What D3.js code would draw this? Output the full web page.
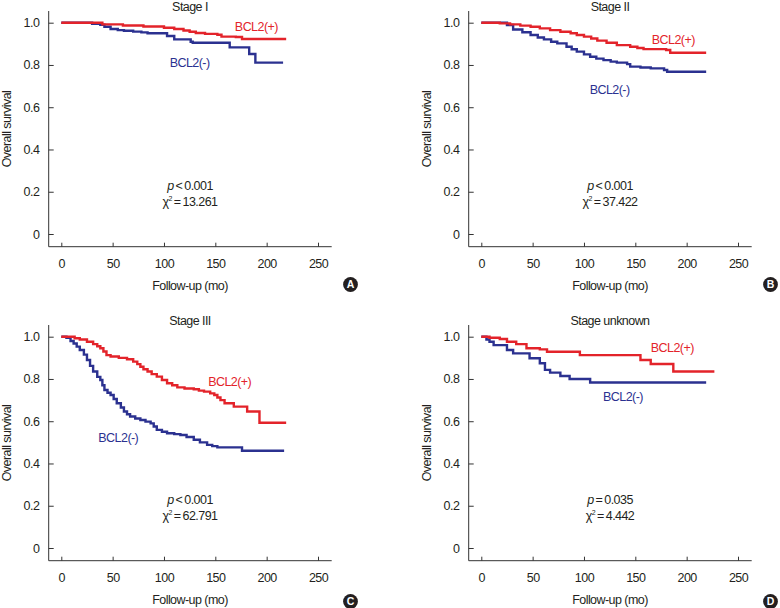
<!DOCTYPE html>
<html>
<head>
<meta charset="utf-8">
<script src="https://cdn.jsdelivr.net/npm/d3@7"></script>
<style>
  html, body { margin: 0; padding: 0; background: #fff; }
  svg { display: block; }
  text { font-family: "Liberation Sans", Arial, sans-serif; fill: #231f20; }
</style>
</head>
<body>
<svg id="chart" width="780" height="608"></svg>
<script>
// ---------- data ----------
const panelTitles = ["Stage I", "Stage II", "Stage III", "Stage unknown"];
const panelLetters = ["A", "B", "C", "D"];
const seriesNames = ["BCL2(+)", "BCL2(-)"];
const pOps = ["<", "<", "<", "="];
const pValues = ["0.001", "0.001", "0.001", "0.035"];
const chiValues = ["13.261", "37.422", "62.791", "4.442"];
const xTicks = [0, 50, 100, 150, 200, 250];
const yTicks = [0, 0.2, 0.4, 0.6, 0.8, 1.0];

// [month, survival]
const stageI_pos = [[0,1],[20,1],[40,0.992],[60,0.987],[80,0.982],[100,0.976],[110,0.97],[119,0.963],[125,0.957],[131,0.951],[140,0.947],[152,0.943],[156,0.934],[170,0.932],[176,0.923],[219,0.923]];
const stageI_neg = [[0,1],[22,1],[30,0.995],[38,0.99],[42,0.981],[48,0.97],[55,0.965],[61,0.962],[70,0.958],[78,0.954],[84,0.95],[103,0.937],[110,0.921],[126,0.91],[128,0.905],[164,0.883],[183,0.852],[189,0.811],[216,0.811]];
const stageII_pos = [[0,1],[9,1],[18,0.997],[28,0.992],[38,0.986],[48,0.981],[57,0.973],[67,0.965],[77,0.957],[87,0.95],[93,0.942],[100,0.934],[107,0.925],[113,0.915],[122,0.905],[132,0.894],[145,0.886],[152,0.88],[158,0.875],[180,0.871],[184,0.858],[219,0.858]];
const stageII_neg = [[0,1],[15,1],[25,0.989],[31,0.968],[40,0.955],[48,0.942],[55,0.93],[61,0.921],[68,0.91],[74,0.902],[83,0.886],[88,0.874],[93,0.863],[100,0.85],[106,0.839],[112,0.83],[119,0.823],[126,0.816],[132,0.811],[142,0.804],[145,0.792],[155,0.788],[165,0.784],[178,0.776],[181,0.768],[219,0.768]];
const stageIII_pos = [[0,1],[8,1],[13,0.993],[18,0.987],[25,0.976],[31,0.965],[35,0.955],[38,0.945],[41,0.93],[44,0.913],[48,0.906],[56,0.9],[64,0.893],[70,0.882],[74,0.87],[77,0.858],[80,0.846],[84,0.835],[88,0.823],[93,0.811],[98,0.795],[103,0.78],[108,0.77],[113,0.76],[120,0.755],[129,0.751],[134,0.745],[139,0.74],[145,0.732],[149,0.724],[152,0.712],[155,0.7],[159,0.685],[168,0.669],[181,0.646],[193,0.593],[219,0.593]];
const stageIII_neg = [[0,1],[5,0.995],[9,0.98],[12,0.968],[15,0.953],[18,0.937],[22,0.915],[25,0.89],[28,0.862],[31,0.835],[35,0.81],[38,0.795],[40,0.77],[42,0.748],[45,0.735],[48,0.724],[51,0.705],[54,0.685],[58,0.665],[61,0.646],[64,0.633],[67,0.622],[72,0.613],[77,0.606],[82,0.598],[87,0.59],[90,0.575],[93,0.559],[98,0.55],[103,0.543],[110,0.539],[116,0.535],[122,0.525],[129,0.512],[135,0.5],[142,0.488],[147,0.482],[152,0.476],[176,0.46],[217,0.46]];
const stageU_pos = [[0,1],[8,0.995],[18,0.989],[25,0.976],[34,0.965],[44,0.945],[57,0.94],[64,0.929],[96,0.913],[155,0.89],[165,0.871],[187,0.835],[227,0.835]];
const stageU_neg = [[0,1],[5,0.987],[8,0.976],[12,0.96],[25,0.937],[31,0.921],[47,0.898],[57,0.874],[62,0.843],[67,0.83],[77,0.814],[86,0.8],[106,0.783],[219,0.783]];

const posSeries = [stageI_pos, stageII_pos, stageIII_pos, stageU_pos];
const negSeries = [stageI_neg, stageII_neg, stageIII_neg, stageU_neg];

// ---------- layout / style ----------
const RED = "#e3232a", BLUE = "#2b3190", INK = "#231f20";
const FONT = 12.5, LS = "-0.55px";
const offsets = [[0,0],[420,0],[0,314],[420,314]];
const letterY = [284.5, 284.5, 287.5, 287.5];
// label anchor positions in data units [month, survival]
const labelPos = [
  [[190,0.981],[125,0.811]],
  [[187,0.921],[125,0.685]],
  [[164,0.787],[55.5,0.524]],
  [[186,0.946],[138,0.716]]
];

const svg = d3.select("#chart");
const x = d3.scaleLinear().domain([0, 250]).range([61.3, 318]);
const y = d3.scaleLinear().domain([0, 1]).range([234, 22.7]);
const line = d3.line().x(d => x(d[0])).y(d => y(d[1])).curve(d3.curveStepAfter);

panelTitles.forEach((title, i) => {
  const g = svg.append("g").attr("transform", `translate(${offsets[i][0]},${offsets[i][1]})`);
  const axisX = 48.7, baseY = 246.7;

  g.append("line").attr("x1", axisX).attr("x2", axisX).attr("y1", 11).attr("y2", baseY)
    .attr("stroke", "#333").attr("stroke-width", 1);
  g.append("line").attr("x1", axisX).attr("x2", 331.7).attr("y1", baseY).attr("y2", baseY)
    .attr("stroke", "#333").attr("stroke-width", 1);

  const ya = g.append("g").attr("transform", `translate(${axisX},0)`)
    .call(d3.axisLeft(y).tickValues(yTicks).tickSizeInner(-5).tickSizeOuter(0).tickPadding(9.4)
      .tickFormat(d => d === 0 ? "0" : d3.format(".1f")(d)));
  ya.select(".domain").remove();
  ya.selectAll("line").attr("stroke", "#333");
  ya.selectAll("text").attr("font-size", FONT).attr("letter-spacing", LS)
    .attr("font-family", '"Liberation Sans", Arial, sans-serif').attr("fill", INK);

  const xa = g.append("g").attr("transform", `translate(0,${baseY})`)
    .call(d3.axisBottom(x).tickValues(xTicks).tickSizeInner(-4).tickSizeOuter(0).tickPadding(12));
  xa.select(".domain").remove();
  xa.selectAll("line").attr("stroke", "#333");
  xa.selectAll("text").attr("font-size", FONT).attr("letter-spacing", LS)
    .attr("font-family", '"Liberation Sans", Arial, sans-serif').attr("fill", INK);

  g.append("text").attr("x", 190).attr("y", 10.5).attr("text-anchor", "middle")
    .attr("font-size", FONT).attr("letter-spacing", LS).text(title);
  g.append("text").attr("x", 190).attr("y", 290).attr("text-anchor", "middle")
    .attr("font-size", FONT).attr("letter-spacing", LS).text("Follow-up (mo)");
  g.append("text").attr("transform", "translate(10.5,129) rotate(-90)").attr("text-anchor", "middle")
    .attr("font-size", FONT).attr("letter-spacing", LS).text("Overall survival");

  g.append("path").datum(negSeries[i]).attr("d", line).attr("fill", "none")
    .attr("stroke", BLUE).attr("stroke-width", 2.4);
  g.append("path").datum(posSeries[i]).attr("d", line).attr("fill", "none")
    .attr("stroke", RED).attr("stroke-width", 2.4);

  [RED, BLUE].forEach((c, k) => {
    g.append("text").attr("x", x(labelPos[i][k][0])).attr("y", y(labelPos[i][k][1]))
      .attr("dy", "0.35em").attr("text-anchor", "middle").attr("font-size", FONT)
      .attr("letter-spacing", LS).style("fill", c).text(seriesNames[k]);
  });

  const t1 = g.append("text").attr("x", 190).attr("y", 189.5).attr("text-anchor", "middle")
    .attr("font-size", FONT).attr("letter-spacing", LS);
  t1.append("tspan").attr("font-style", "italic").text("p");
  t1.append("tspan").text("\u2009" + pOps[i] + "\u2009" + pValues[i]);
  const t2 = g.append("text").attr("x", 190).attr("y", 206).attr("text-anchor", "middle")
    .attr("font-size", FONT).attr("letter-spacing", LS);
  t2.append("tspan").text("\u03C7");
  t2.append("tspan").attr("font-size", 7).attr("dy", -5).text("2");
  t2.append("tspan").attr("dy", 5).text("\u2009=\u2009" + chiValues[i]);

  g.append("circle").attr("cx", 350.5).attr("cy", letterY[i]).attr("r", 7.4).attr("fill", INK);
  g.append("text").attr("x", 350.5).attr("y", letterY[i]).attr("dy", "0.36em").attr("text-anchor", "middle")
    .attr("font-size", 10.5).attr("font-weight", "bold").style("fill", "#fff").text(panelLetters[i]);
});
</script>
</body>
</html>
